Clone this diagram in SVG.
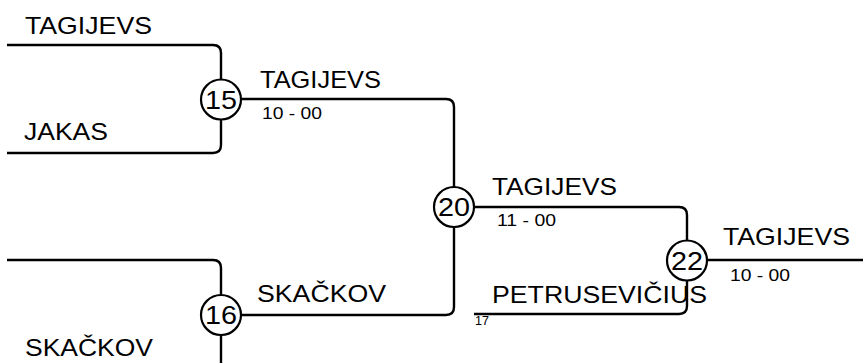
<svg xmlns="http://www.w3.org/2000/svg" width="863" height="363" viewBox="0 0 863 363">
<style>
.c{fill:none;stroke:#000;stroke-width:2.4;stroke-linejoin:round}
.m{fill:#fff;stroke:#000;stroke-width:2.2}
.n{font-family:"Liberation Sans",Arial,sans-serif;font-size:25px;fill:#000;text-anchor:middle}
.p{font-family:"Liberation Sans",Arial,sans-serif;font-size:24.5px;fill:#000}
.s{font-family:"Liberation Sans",Arial,sans-serif;font-size:17px;fill:#000}
.t{font-family:"Liberation Sans",Arial,sans-serif;font-size:12px;fill:#000}
</style>
<rect width="863" height="363" fill="#fff"/>
<g id="connectors">
<path class="c" d="M7,45 H213 Q221,45 221,53 V145 Q221,153 213,153 H7"/>
<path class="c" d="M7,260 H213 Q221,260 221,268 V362 Q221,370 213,370 H7"/>
<path class="c" d="M221,99 H446 Q454,99 454,107 V307 Q454,315 446,315 H221"/>
<path class="c" d="M454,207 H679 Q687,207 687,215 V306 Q687,314 679,314 H474"/>
<path class="c" d="M687,260 H863"/>
</g>
<g id="labels">
<text class="p" x="25" y="34" textLength="127" lengthAdjust="spacingAndGlyphs">TAGIJEVS</text>
<text class="p" x="24" y="140" textLength="84" lengthAdjust="spacingAndGlyphs">JAKAS</text>
<text class="p" x="260" y="88" textLength="121" lengthAdjust="spacingAndGlyphs">TAGIJEVS</text>
<text class="s" x="262" y="119" textLength="60" lengthAdjust="spacingAndGlyphs">10 - 00</text>
<text class="p" x="257" y="302" textLength="129" lengthAdjust="spacingAndGlyphs">SKAČKOV</text>
<text class="p" x="25" y="356" textLength="128" lengthAdjust="spacingAndGlyphs">SKAČKOV</text>
<text class="p" x="492" y="195" textLength="125" lengthAdjust="spacingAndGlyphs">TAGIJEVS</text>
<text class="s" x="497" y="226" textLength="59" lengthAdjust="spacingAndGlyphs">11 - 00</text>
<text class="p" x="492" y="303" textLength="215" lengthAdjust="spacingAndGlyphs">PETRUSEVIČIUS</text>
<text class="t" x="475" y="325" textLength="14" lengthAdjust="spacingAndGlyphs">17</text>
<text class="p" x="723" y="245" textLength="127" lengthAdjust="spacingAndGlyphs">TAGIJEVS</text>
<text class="s" x="730" y="281" textLength="60" lengthAdjust="spacingAndGlyphs">10 - 00</text>
</g>
<g id="match15"><circle class="m" cx="221" cy="99.5" r="20"/><text class="n" x="221" y="108.5" textLength="32" lengthAdjust="spacingAndGlyphs">15</text></g>
<g id="match16"><circle class="m" cx="221" cy="315" r="20"/><text class="n" x="221" y="324" textLength="32" lengthAdjust="spacingAndGlyphs">16</text></g>
<g id="match20"><circle class="m" cx="454" cy="207" r="20"/><text class="n" x="454" y="216" textLength="32" lengthAdjust="spacingAndGlyphs">20</text></g>
<g id="match22"><circle class="m" cx="687" cy="260.5" r="20"/><text class="n" x="687" y="269.5" textLength="32" lengthAdjust="spacingAndGlyphs">22</text></g>
</svg>
